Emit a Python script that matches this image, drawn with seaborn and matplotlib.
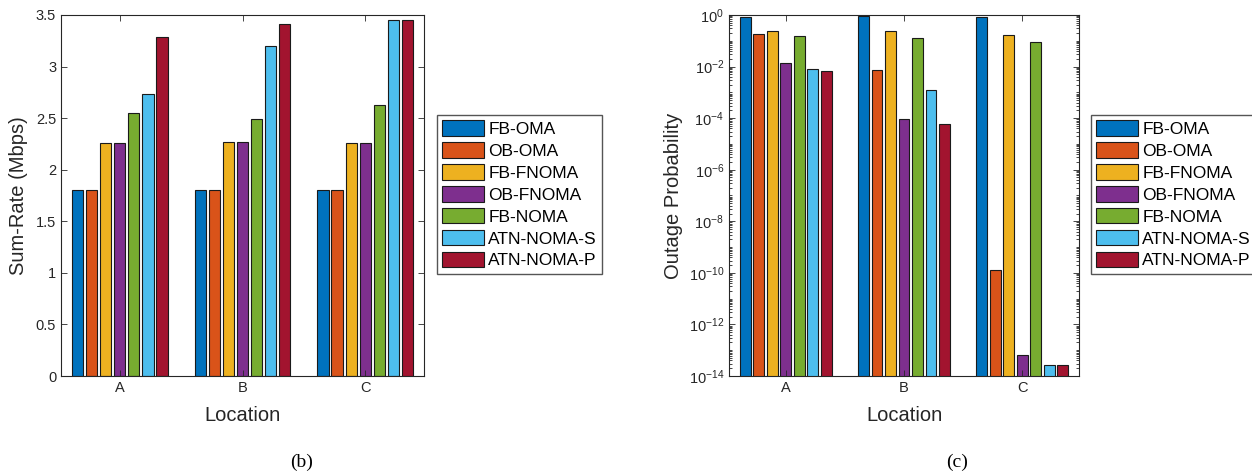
import numpy as np
import pandas as pd
import matplotlib
matplotlib.use("Agg")
import matplotlib.pyplot as plt
import matplotlib.ticker as mticker
import seaborn as sns

locations = ["A", "B", "C"]
schemes = ["FB-OMA", "OB-OMA", "FB-FNOMA", "OB-FNOMA", "FB-NOMA", "ATN-NOMA-S", "ATN-NOMA-P"]
colors = ["#0072BD", "#D95319", "#EDB120", "#7E2F8E", "#77AC30", "#4DBEEE", "#A2142F"]

# sum-rate (Mbps), one list per location
rate_A = [1.80, 1.80, 2.26, 2.26, 2.55, 2.73, 3.29]
rate_B = [1.80, 1.80, 2.27, 2.27, 2.49, 3.20, 3.41]
rate_C = [1.80, 1.80, 2.26, 2.26, 2.63, 3.45, 3.45]

# outage probability, one list per location
outage_A = [0.81, 0.19, 0.24, 0.014, 0.16, 0.0079, 0.0068]
outage_B = [0.91, 0.0072, 0.23, 9.1e-5, 0.13, 0.00124, 6.0e-5]
outage_C = [0.86, 1.24e-10, 0.17, 6.7e-14, 0.09, 2.75e-14, 2.7e-14]

rows = []
for loc, r, o in zip(locations, [rate_A, rate_B, rate_C], [outage_A, outage_B, outage_C]):
    for s, rv, ov in zip(schemes, r, o):
        rows.append({"Location": loc, "Scheme": s, "rate": rv, "outage": ov})
df = pd.DataFrame(rows)

plt.rcParams["font.family"] = ["Liberation Sans", "DejaVu Sans"]
plt.rcParams["mathtext.fontset"] = "custom"
plt.rcParams["mathtext.rm"] = "Liberation Sans"
plt.rcParams["mathtext.it"] = "Liberation Sans:italic"

txt = "#262626"
fig = plt.figure(figsize=(12.52, 4.73), dpi=100)
ax1 = fig.add_axes([61 / 1252, 97 / 473, 363 / 1252, 361 / 473])
ax2 = fig.add_axes([729 / 1252, 97 / 473, 350 / 1252, 361 / 473])

bar_kw = dict(x="Location", hue="Scheme", palette=colors, gap=0.2, width=0.8,
              edgecolor="#1a1a1a", linewidth=0.8, saturation=1, errorbar=None)

sns.barplot(data=df, y="rate", ax=ax1, **bar_kw)
sns.barplot(data=df, y="outage", ax=ax2, **bar_kw)
ax2.set_yscale("log")

ax1.set_ylim(0, 3.5)
ax1.set_yticks(np.arange(0, 3.51, 0.5))
ax1.yaxis.set_major_formatter(mticker.FuncFormatter(lambda v, p: f"{v:g}"))

ax2.set_ylim(1e-14, 1)
ax2.yaxis.set_major_locator(mticker.FixedLocator([10.0 ** k for k in range(-14, 1, 2)]))
ax2.yaxis.set_minor_locator(mticker.LogLocator(base=10, subs=np.arange(1, 10), numticks=40))
ax2.yaxis.set_minor_formatter(mticker.NullFormatter())
ax2.yaxis.set_major_formatter(mticker.LogFormatterMathtext())

for ax, ylab, ylx in [(ax1, "Sum-Rate (Mbps)", -0.091), (ax2, "Outage Probability", -0.131)]:
    ax.set_xlim(-0.48, 2.48)
    ax.set_xlabel("Location", fontsize=14.5, color=txt)
    ax.set_ylabel(ylab, fontsize=14.5, color=txt)
    ax.xaxis.set_label_coords(0.5, -0.083)
    ax.yaxis.set_label_coords(ylx, 0.5)
    ax.tick_params(which="both", direction="in", top=True, right=True, labelsize=10.5,
                   colors=txt, width=0.6)
    ax.tick_params(which="major", length=4)
    ax.tick_params(which="minor", length=2)
    for sp in ax.spines.values():
        sp.set_color(txt)
        sp.set_linewidth(0.8)
    handles, labels = ax.get_legend_handles_labels()
    ax.get_legend().remove()

leg_kw = dict(fontsize=12.5, loc="upper left", frameon=True, fancybox=False,
              edgecolor="#555555", framealpha=1, handlelength=2.4, handleheight=1.0,
              handletextpad=0.25, labelspacing=0.3, borderpad=0.3, borderaxespad=0)
fig.legend(handles, labels, bbox_to_anchor=(437 / 1252, 1 - 115 / 473), **leg_kw)
fig.legend(handles, labels, bbox_to_anchor=(1091 / 1252, 1 - 115 / 473), **leg_kw)

fig.text(302 / 1252, 1 - 462 / 473, "(b)", ha="center", va="center",
         fontsize=14, family="Liberation Serif")
fig.text(957 / 1252, 1 - 462 / 473, "(c)", ha="center", va="center",
         fontsize=14, family="Liberation Serif")

fig.savefig("out.png", dpi=100)
